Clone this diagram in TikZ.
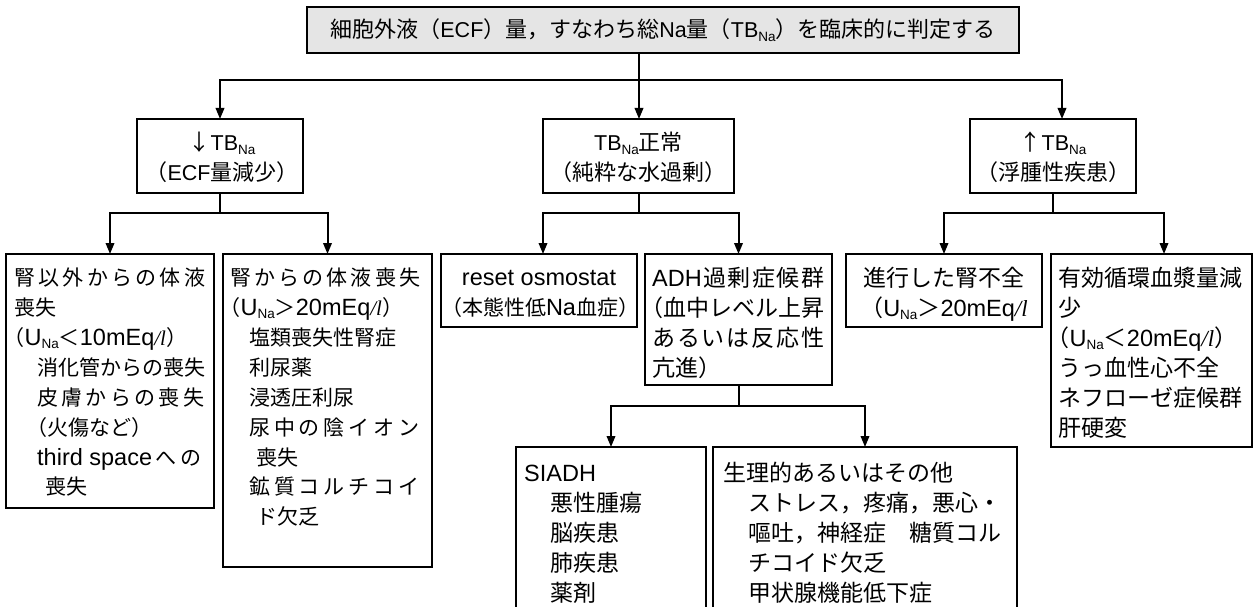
\documentclass[tikz,border=0pt]{standalone}
\usepackage{fontspec}
\setmainfont{Noto Sans CJK JP}
\newfontfamily\lafont{Liberation Sans}
\newfontfamily\ser{Liberation Serif}
\usetikzlibrary{arrows.meta}
\newcommand\lasize{23.5}
\newcommand\la{\fontsize{\lasize}{30}\selectfont\lafont}
\newcommand\sbn[1]{\raisebox{-3.5pt}{\fontsize{13.5}{14}\selectfont\lafont #1}}
\newcommand\TB{{\la TB}\sbn{Na}}
\newcommand\UNa{{\la U}\sbn{Na}}
\newcommand\mq[1]{{\la #1mEq}{\ser\itshape /l}}
\newcommand\lp{\hspace*{-0.5em}（}
\newcommand\I[1]{\hspace*{#1pt}}
\newcommand\jl[2]{\makebox[#1][s]{#2}}
\newcommand\fs[1]{\fontsize{#1}{30}\selectfont\lineskiplimit=-60pt\relax}
\begin{document}
\begin{tikzpicture}[x=1pt,y=-1pt,
  box/.style={draw=black, line width=1.1pt, inner sep=0pt, outer sep=0pt, anchor=north west},
  txt/.style={inner sep=0pt, font={\fs{23}}},
  small/.style={font={\fs{21}}},
  head/.style={font={\fs{22}\def\lasize{21.5}}},
  conn/.style={line width=2pt},
  arr/.style={conn, -{Triangle[length=11pt,width=8.5pt]}}]
\useasboundingbox (0,0) rectangle (1254,607);
\clip (0,0) rectangle (1254,607);

% level 1
\node[box, fill=black!10, minimum width=712pt, minimum height=46pt] (root) at (307,7) {};
\node[txt, head, anchor=base] (roott) at (663,38) {細胞外液（{\la ECF}）量，すなわち総{\la Na}量（\TB）を臨床的に判定する};

% level 2
\node[box, minimum width=166pt, minimum height=74pt] (b1) at (137,119) {};
\node[box, minimum width=191pt, minimum height=74pt] (b2) at (543,119) {};
\node[box, minimum width=166pt, minimum height=74pt] (b3) at (970,119) {};
\node[txt, head, anchor=base] (b1t) at (222,151) {\parbox[t]{166pt}{\centering ↓\TB\\（{\la ECF}量減少）}};
\node[txt, head, anchor=base] (b2t) at (638.5,151) {\parbox[t]{191pt}{\centering \TB 正常\\（純粋な水過剰）}};
\node[txt, head, anchor=base] (b3t) at (1053,151) {\parbox[t]{166pt}{\centering ↑\TB\\（浮腫性疾患）}};

% level 3
\node[box, minimum width=208pt, minimum height=254pt] (c1) at (6,254) {};
\node[box, minimum width=209pt, minimum height=313pt] (c2) at (223,254) {};
\node[box, minimum width=196pt, minimum height=73pt] (c3) at (441,254) {};
\node[box, minimum width=187pt, minimum height=131pt] (c4) at (645,254) {};
\node[box, minimum width=196pt, minimum height=73pt] (c5) at (846,254) {};
\node[box, minimum width=201pt, minimum height=193pt] (c6) at (1051,254) {};

\node[txt, small, anchor=base west] (c1t) at (14,285) {\parbox[t]{300pt}{\raggedright
\jl{191pt}{腎\hfil 以\hfil 外\hfil か\hfil ら\hfil の\hfil 体\hfil 液}\\
喪失\\
\lp\UNa＜\mq{10}）\\
\I{23}消化管からの喪失\\
\I{23}\jl{167pt}{皮\hfil 膚\hfil か\hfil ら\hfil の\hfil 喪\hfil 失}\\
\I{23}\lp 火傷など）\\
\I{23}\jl{164pt}{{\la third space}\hfil へ\hfil の}\\
\I{31}喪失}};
\node[txt, small, anchor=base west] (c2t) at (230,285) {\parbox[t]{300pt}{\raggedright
\jl{190pt}{腎\hfil か\hfil ら\hfil の\hfil 体\hfil 液\hfil 喪\hfil 失}\\
\lp\UNa＞\mq{20}）\\
\I{19}塩類喪失性腎症\\
\I{19}利尿薬\\
\I{19}浸透圧利尿\\
\I{19}\jl{170pt}{尿\hfil 中\hfil の\hfil 陰\hfil イ\hfil オ\hfil ン}\\
\I{26}喪失\\
\I{19}\jl{170pt}{鉱\hfil 質\hfil コ\hfil ル\hfil チ\hfil コ\hfil イ}\\
\I{26}ド欠乏}};
\node[txt, small, anchor=base] (c3t) at (539,285) {\parbox[t]{196pt}{\centering {\la reset osmostat}\\（本態性低{\la Na}血症）}};
\node[txt, anchor=base west] (c4t) at (652,286) {\parbox[t]{300pt}{\raggedright
\jl{172pt}{{\la ADH}\hfil 過\hfil 剰\hfil 症\hfil 候\hfil 群}\\
\lp 血中レベル上昇\\
\jl{172pt}{あ\hfil る\hfil い\hfil は\hfil 反\hfil 応\hfil 性}\\
亢進）}};
\node[txt, anchor=base] (c5t) at (944,286) {\parbox[t]{196pt}{\centering 進行した腎不全\\（\UNa＞\mq{20}}};
\node[txt, anchor=base west] (c6t) at (1058,286) {\parbox[t]{300pt}{\raggedright
有効循環血漿量減\\
少\\
\lp\UNa＜\mq{20}）\\
うっ血性心不全\\
ネフローゼ症候群\\
肝硬変}};

% level 4 (open at the bottom)
\node[box, minimum width=190pt, minimum height=200pt] (d1) at (516,447) {};
\node[box, minimum width=304pt, minimum height=200pt] (d2) at (713,447) {};
\node[txt, anchor=base west] (d1t) at (524,481) {\parbox[t]{300pt}{\raggedright
{\la SIADH}\\
\I{26}悪性腫瘍\\
\I{26}脳疾患\\
\I{26}肺疾患\\
\I{26}薬剤}};
\node[txt, anchor=base west] (d2t) at (723,481) {\parbox[t]{320pt}{\raggedright
生理的あるいはその他\\
\I{25}ストレス，疼痛，悪心・\\
\I{25}嘔吐，神経症　糖質コル\\
\I{25}チコイド欠乏\\
\I{25}甲状腺機能低下症}};

% connectors level 1 -> 2
\coordinate (j0) at (639,80);
\coordinate (k3) at (1062,80);
\draw[conn] (root.south -| j0) -- (j0);
\draw[arr] (j0) -| (b1.north);
\draw[arr] (j0) -- (b2.north -| j0);
\draw[arr] (j0) -- (k3) -- (b3.north -| k3);

% level 2 -> 3
\coordinate (j1) at (220,213);
\draw[conn] (b1.south) -- (j1);
\draw[arr] (j1) -| (c1.north);
\draw[arr] (j1) -| (c2.north);

\coordinate (j2) at (639,213);
\coordinate (k31) at (543,213);
\draw[conn] (b2.south -| j2) -- (j2);
\draw[arr] (j2) -- (k31) -- (c3.north -| k31);
\draw[arr] (j2) -| (c4.north);

\coordinate (j3) at (1053,213);
\coordinate (k36) at (1164,213);
\draw[conn] (b3.south) -- (j3);
\draw[arr] (j3) -| (c5.north);
\draw[arr] (j3) -- (k36) -- (c6.north -| k36);

% level 3 -> 4
\coordinate (j4) at (738.5,406);
\draw[conn] (c4.south) -- (j4);
\draw[arr] (j4) -| (d1.north);
\draw[arr] (j4) -| (d2.north);
\end{tikzpicture}
\end{document}
